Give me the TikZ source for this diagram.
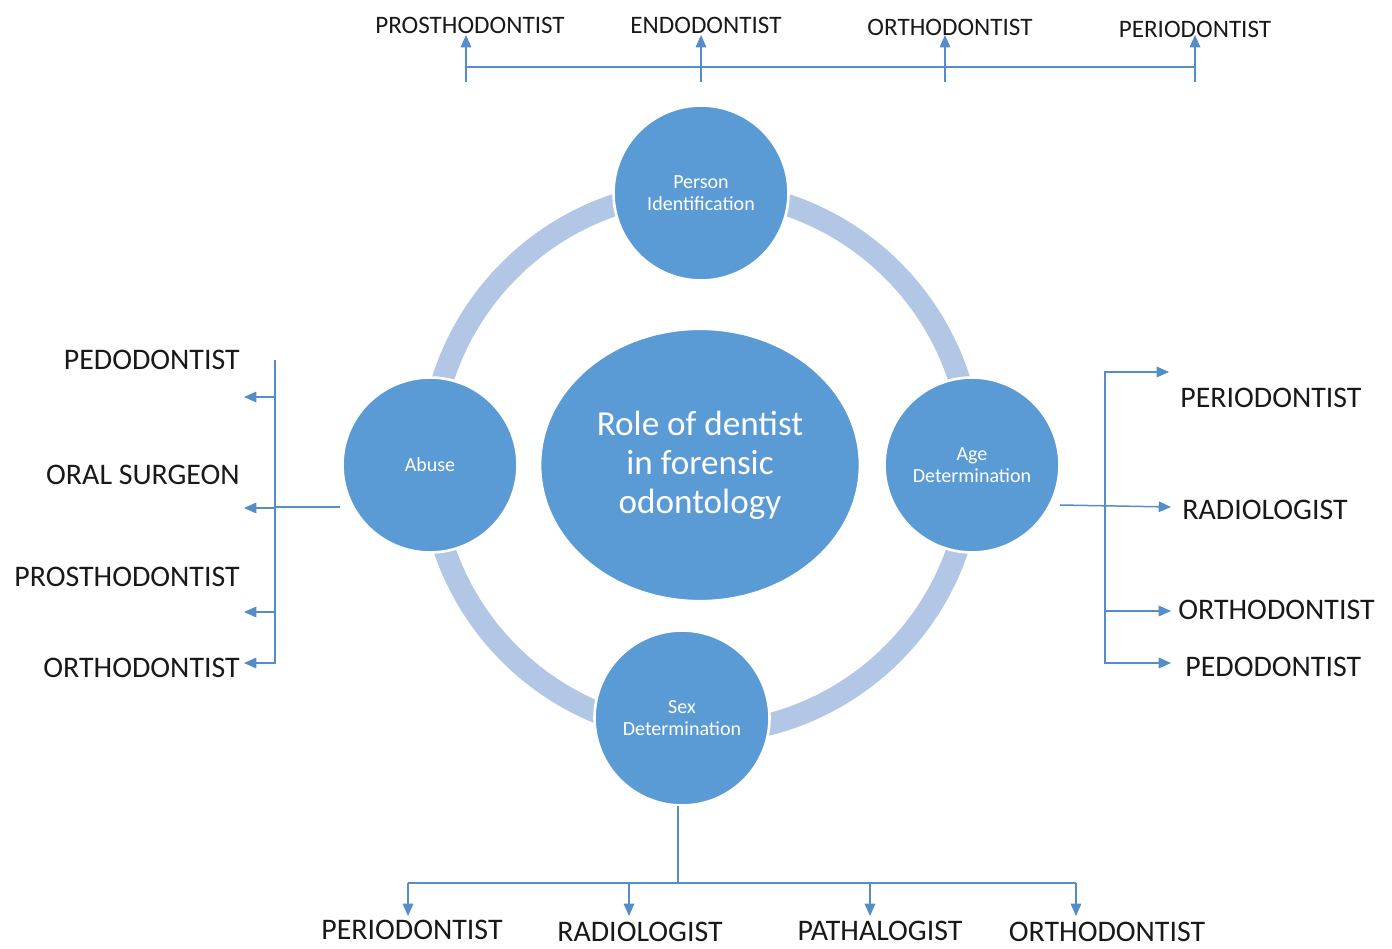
\documentclass[tikz,border=0pt]{standalone}
\usepackage{fontspec}
\setmainfont{Carlito}
\usepackage{tikz}
\usetikzlibrary{shapes.geometric, arrows.meta, positioning, calc}
\definecolor{discblue}{RGB}{91,155,213}
\definecolor{ringblue}{RGB}{178,198,229}
\definecolor{linkblue}{RGB}{84,141,199}
\definecolor{inkgray}{RGB}{25,25,25}

\begin{document}
\begin{tikzpicture}[x=0.02cm, y=-0.02cm,
    disc/.style={circle, fill=discblue, draw=white, line width=1.5pt, minimum size=3.5cm, inner sep=0pt,
      text=white, align=center, font=\fontsize{11.4}{12.5}\selectfont},
    hub/.style={ellipse, fill=discblue, draw=white, line width=1.5pt, minimum width=6.4cm, minimum height=5.45cm,
      text=white, align=center, font=\fontsize{20}{22.3}\selectfont},
    lbl/.style={text=inkgray, inner sep=0pt, font=\fontsize{17}{20}\selectfont},
    toplbl/.style={lbl, font=\fontsize{14.3}{17}\selectfont},
    link/.style={draw=linkblue, line width=0.85pt},
    arr/.style={link, -{Triangle[length=7pt, width=6pt]}},
    arrs/.style={link, {Triangle[length=7pt, width=6pt]}-{Triangle[length=7pt, width=6pt]}},
  ]
  \useasboundingbox (0,0) rectangle (1392,949);

  % ring behind the discs
  \draw[ringblue, line width=0.44cm] (701,462) circle [radius=271];

  \node[hub] (role) at (700,465) {Role of dentist\\in forensic\\odontology};
  \node[disc] (person) at (701,193) {Person\\Identification};
  \node[disc] (age) at (972,465) {Age\\Determination};
  \node[disc] (abuse) at (430,465) {Abuse};
  \node[disc] (sex) at (682,718) {Sex\\Determination};

  % top branch
  \node[toplbl] (tprost) at (470,25) {PROSTHODONTIST};
  \node[toplbl] (tendo) at (706,25) {ENDODONTIST};
  \node[toplbl] (tortho) at (950,27) {ORTHODONTIST};
  \node[toplbl] (tperio) at (1195,29) {PERIODONTIST};
  \coordinate (tbar1) at (466,67);
  \coordinate (tbar4) at (1195,67);
  \draw[link] (tbar1) -- (tbar4);
  \draw[arr] (466,82) -- (466,35);
  \draw[arr] (701,82) -- (701,35);
  \draw[arr] (945,82) -- (945,35);
  \draw[arr] (1195,82) -- (1195,35);

  % left branch
  \node[lbl, anchor=east] (lpedo) at (240,360) {PEDODONTIST};
  \node[lbl, anchor=east] (loral) at (240,475) {ORAL SURGEON};
  \node[lbl, anchor=east] (lprost) at (240,577) {PROSTHODONTIST};
  \node[lbl, anchor=east] (lortho) at (240,668) {ORTHODONTIST};
  \coordinate (ltop) at (275,360);
  \coordinate (lfoot) at (275,663);
  \coordinate (lfrom) at (340,507);
  \draw[link] (lfrom) -- (275,507);
  \draw[arr] (ltop) -- (lfoot) -- (244,663);
  \draw[arr] (275,397) -- (244,397);
  \draw[arr] (275,508) -- (244,508);
  \draw[arr] (275,612) -- (244,612);

  % right branch
  \node[lbl, anchor=west] (rperio) at (1180,398) {PERIODONTIST};
  \node[lbl, anchor=west] (rradio) at (1182,510) {RADIOLOGIST};
  \node[lbl, anchor=west] (rortho) at (1178,610) {ORTHODONTIST};
  \node[lbl, anchor=west] (rpedo) at (1185,667) {PEDODONTIST};
  \coordinate (rfrom) at (1060,505);
  \draw[arrs] (1169,372) -- (1105,372) -- (1105,663) -- (1171,663);
  \draw[arr] (1105,611) -- (1171,611);
  \draw[arr] (rfrom) -- (1171,507);

  % bottom branch
  \node[lbl] (bperio) at (412,930) {PERIODONTIST};
  \node[lbl] (bradio) at (640,932) {RADIOLOGIST};
  \node[lbl] (bpath) at (880,931) {PATHALOGIST};
  \node[lbl] (bortho) at (1107,932) {ORTHODONTIST};
  \coordinate (bfrom) at (678,806);
  \draw[link] (bfrom) -- (678,883);
  \draw[link] (408,883) -- (1076,883);
  \draw[arr] (408,883) -- (408,916);
  \draw[arr] (629,883) -- (629,916);
  \draw[arr] (870,883) -- (870,916);
  \draw[arr] (1076,883) -- (1076,916);
\end{tikzpicture}
\end{document}
